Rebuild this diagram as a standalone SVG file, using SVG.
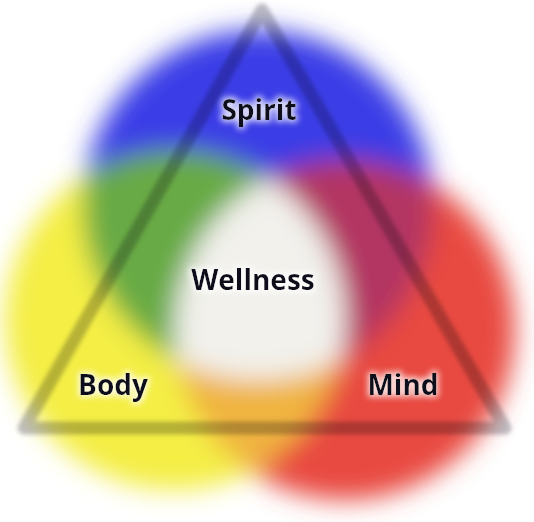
<svg xmlns="http://www.w3.org/2000/svg" width="534" height="522" viewBox="0 0 534 522">
  <defs>
    <filter id="soft" x="-20%" y="-20%" width="140%" height="140%">
      <feGaussianBlur stdDeviation="13"/>
    </filter>
    <filter id="lineBlur" x="-10%" y="-10%" width="120%" height="120%">
      <feGaussianBlur stdDeviation="2"/>
    </filter>
    <filter id="halo" x="-20%" y="-40%" width="140%" height="180%">
      <feMorphology in="SourceAlpha" operator="dilate" radius="2" result="d"/>
      <feGaussianBlur in="d" stdDeviation="3" result="b"/>
      <feFlood flood-color="#ffffff" flood-opacity="0.8"/>
      <feComposite in2="b" operator="in" result="glow"/>
      <feMerge>
        <feMergeNode in="glow"/>
        <feMergeNode in="SourceGraphic"/>
      </feMerge>
    </filter>
    <clipPath id="cBlue"><circle cx="258" cy="205" r="175"/></clipPath>
    <clipPath id="cYellow"><circle cx="175" cy="320" r="170"/></clipPath>
    <clipPath id="cRed"><circle cx="345" cy="330" r="170"/></clipPath>
  </defs>
  <style>
    .lbl { font-family: "Open Sans", "Liberation Sans", sans-serif; font-weight: 700; font-size: 28px; fill: #10101c; text-anchor: middle; }
  </style>
  <rect width="534" height="522" fill="#ffffff"/>

  <g id="circles" filter="url(#soft)">
    <circle cx="258" cy="205" r="175" fill="#3a3ee6"/>
    <circle cx="175" cy="320" r="170" fill="#f4ee44"/>
    <circle cx="345" cy="330" r="170" fill="#e8483f"/>
    <g clip-path="url(#cBlue)">
      <circle cx="175" cy="320" r="170" fill="#68aa44"/>
      <circle cx="345" cy="330" r="170" fill="#b23462"/>
    </g>
    <g clip-path="url(#cYellow)">
      <circle cx="345" cy="330" r="170" fill="#f0b440"/>
      <g clip-path="url(#cRed)">
        <circle cx="258" cy="205" r="175" fill="#f2f1ec"/>
      </g>
    </g>
  </g>

  <g id="connectors">
    <path d="M262,10 L505,428 L24,428 Z" fill="none" stroke="#8a8a94" stroke-width="13" stroke-linejoin="round" opacity="0.55" style="mix-blend-mode:multiply" filter="url(#lineBlur)"/>
  </g>

  <g id="spirit"><text class="lbl" x="259" y="120" filter="url(#halo)">Spirit</text></g>
  <g id="wellness"><text class="lbl" x="253" y="290" filter="url(#halo)">Wellness</text></g>
  <g id="body"><text class="lbl" x="113" y="395" filter="url(#halo)">Body</text></g>
  <g id="mind"><text class="lbl" x="403" y="395" filter="url(#halo)">Mind</text></g>
</svg>
